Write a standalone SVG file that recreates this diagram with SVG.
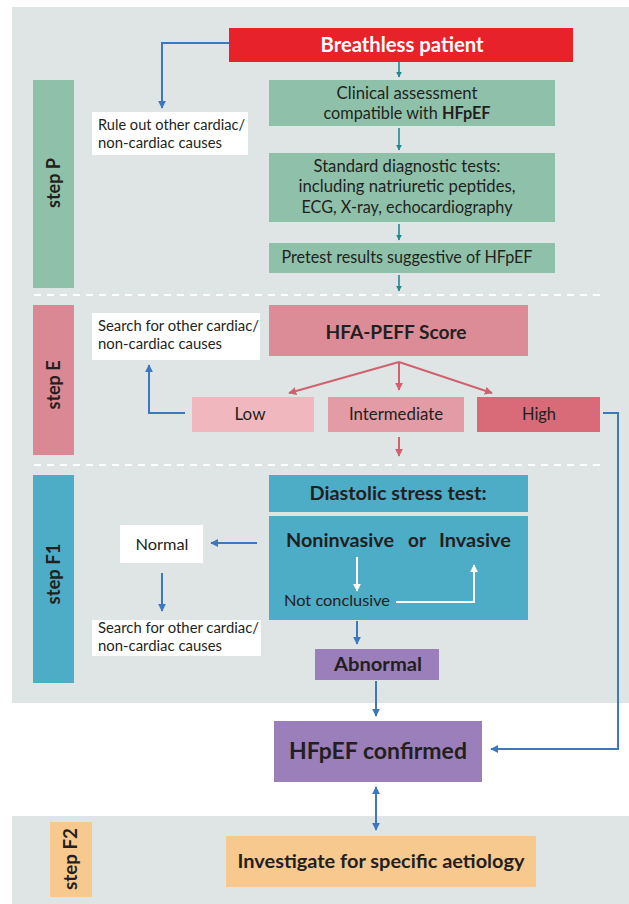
<svg xmlns="http://www.w3.org/2000/svg" width="629" height="904" viewBox="0 0 629 904">
<defs>
<style>
text{font-family:Lato,"Open Sans","Liberation Sans",sans-serif;fill:#231f20}
.b{font-weight:bold}
.c{text-anchor:middle}
.bg{fill:#dfe5e4}
.grn{fill:#8fc1aa}
.w{fill:#ffffff}
.tl{stroke:#1f8a8c;stroke-width:1.6;fill:none}
.pk{stroke:#d1616f;stroke-width:2;fill:none}
.bl{stroke:#3c78bf;stroke-width:2;fill:none}
.wh{stroke:#ffffff;stroke-width:2;fill:none}
.dash{stroke:#ffffff;stroke-width:2;stroke-dasharray:7 6;fill:none}
</style>
<marker id="mt" viewBox="0 0 10 10" refX="9" refY="5" markerWidth="6" markerHeight="6" orient="auto" markerUnits="userSpaceOnUse"><path d="M0,0 L10,5 L0,10 z" fill="#1f8a8c"/></marker>
<marker id="mp" viewBox="0 0 10 10" refX="9" refY="5" markerWidth="8" markerHeight="8" orient="auto" markerUnits="userSpaceOnUse"><path d="M0,0 L10,5 L0,10 z" fill="#d1616f"/></marker>
<marker id="mb" viewBox="0 0 10 10" refX="9" refY="5" markerWidth="8" markerHeight="8" orient="auto-start-reverse" markerUnits="userSpaceOnUse"><path d="M0,0 L10,5 L0,10 z" fill="#3c78bf"/></marker>
<marker id="mw" viewBox="0 0 10 10" refX="9" refY="5" markerWidth="8" markerHeight="8" orient="auto" markerUnits="userSpaceOnUse"><path d="M0,0 L10,5 L0,10 z" fill="#ffffff"/></marker>
</defs>

<g id="panels">
<rect class="bg" x="12" y="7" width="617" height="696"/>
<rect class="bg" x="12" y="816" width="617" height="88"/>
<line class="dash" x1="34" y1="295" x2="600" y2="295"/>
<line class="dash" x1="34" y1="465" x2="600" y2="465"/>
</g>

<g id="stepP">
<rect class="grn" x="33" y="80" width="41" height="208"/>
<text class="b c" font-size="18" transform="translate(60,183) rotate(-90)" textLength="50" lengthAdjust="spacingAndGlyphs">step P</text>
</g>
<g id="stepE">
<rect fill="#d98894" x="33" y="305" width="41" height="150"/>
<text class="b c" font-size="18" transform="translate(60,385) rotate(-90)" textLength="49" lengthAdjust="spacingAndGlyphs">step E</text>
</g>
<g id="stepF1">
<rect fill="#4dacc6" x="33" y="475" width="41" height="208"/>
<text class="b c" font-size="18" transform="translate(60,574) rotate(-90)" textLength="61" lengthAdjust="spacingAndGlyphs">step F1</text>
</g>
<g id="stepF2">
<rect fill="#f7c98f" x="50" y="822" width="42" height="75"/>
<text class="b c" font-size="18" transform="translate(77,859) rotate(-90)" textLength="62" lengthAdjust="spacingAndGlyphs">step F2</text>
</g>

<g id="breathless">
<rect fill="#e8222b" x="229" y="28" width="344" height="34"/>
<text class="b c" font-size="20" x="402" y="52" style="fill:#ffffff" textLength="163" lengthAdjust="spacingAndGlyphs">Breathless patient</text>
</g>
<g id="clinical">
<rect class="grn" x="269" y="80" width="286" height="46"/>
<text class="c" font-size="16.5" x="407" y="99" textLength="141" lengthAdjust="spacingAndGlyphs">Clinical assessment</text>
<text class="c" font-size="16.5" x="407" y="119" textLength="167" lengthAdjust="spacingAndGlyphs">compatible with <tspan class="b">HFpEF</tspan></text>
</g>
<g id="standard">
<rect class="grn" x="269" y="153" width="286" height="69"/>
<text class="c" font-size="16.5" x="407" y="172" textLength="187" lengthAdjust="spacingAndGlyphs">Standard diagnostic tests:</text>
<text class="c" font-size="16.5" x="407" y="192" textLength="217" lengthAdjust="spacingAndGlyphs">including natriuretic peptides,</text>
<text class="c" font-size="16.5" x="407" y="213" textLength="211" lengthAdjust="spacingAndGlyphs">ECG, X-ray, echocardiography</text>
</g>
<g id="pretest">
<rect class="grn" x="269" y="243" width="286" height="30"/>
<text class="c" font-size="16.5" x="407" y="263" textLength="251" lengthAdjust="spacingAndGlyphs">Pretest results suggestive of HFpEF</text>
</g>
<g id="ruleout">
<rect class="w" x="92" y="112" width="156" height="43"/>
<text font-size="14.5" x="98" y="130" textLength="147" lengthAdjust="spacingAndGlyphs">Rule out other cardiac/</text>
<text font-size="14.5" x="98" y="148" textLength="124" lengthAdjust="spacingAndGlyphs">non-cardiac causes</text>
</g>

<g id="hfapeff">
<rect fill="#dc8c97" x="269" y="305" width="259" height="51"/>
<text class="b c" font-size="19" x="396" y="339" textLength="141" lengthAdjust="spacingAndGlyphs">HFA-PEFF Score</text>
</g>
<g id="searchE">
<rect class="w" x="92" y="313" width="168" height="47"/>
<text font-size="14.5" x="98" y="331" textLength="161" lengthAdjust="spacingAndGlyphs">Search for other cardiac/</text>
<text font-size="14.5" x="98" y="349" textLength="124" lengthAdjust="spacingAndGlyphs">non-cardiac causes</text>
</g>
<g id="low">
<rect fill="#f0b8be" x="192" y="397" width="122" height="35"/>
<text class="c" font-size="16.5" x="250" y="420" textLength="31" lengthAdjust="spacingAndGlyphs">Low</text>
</g>
<g id="intermediate">
<rect fill="#e39ba5" x="328" y="397" width="136" height="35"/>
<text class="c" font-size="16.5" x="396" y="420" textLength="94" lengthAdjust="spacingAndGlyphs">Intermediate</text>
</g>
<g id="high">
<rect fill="#d96b79" x="477" y="397" width="123" height="35"/>
<text class="c" font-size="16.5" x="539" y="420" textLength="34" lengthAdjust="spacingAndGlyphs">High</text>
</g>

<g id="diastolic">
<rect fill="#4dacc6" x="269" y="475" width="259" height="37"/>
<text class="b c" font-size="18" x="398" y="500" textLength="177" lengthAdjust="spacingAndGlyphs">Diastolic stress test:</text>
</g>
<g id="noninvasive">
<rect fill="#4dacc6" x="269" y="516" width="259" height="104"/>
<text class="b" font-size="18" x="286" y="547" textLength="108" lengthAdjust="spacingAndGlyphs">Noninvasive</text>
<text class="b" font-size="18" x="408" y="547" textLength="18" lengthAdjust="spacingAndGlyphs">or</text>
<text class="b" font-size="18" x="439" y="547" textLength="72" lengthAdjust="spacingAndGlyphs">Invasive</text>
<text font-size="16" x="284" y="606" textLength="106" lengthAdjust="spacingAndGlyphs">Not conclusive</text>
</g>
<g id="normal">
<rect class="w" x="120" y="525" width="83" height="38"/>
<text class="c" font-size="16" x="162" y="550" textLength="53" lengthAdjust="spacingAndGlyphs">Normal</text>
</g>
<g id="searchF1">
<rect class="w" x="92" y="620" width="169" height="36"/>
<text font-size="14.5" x="98" y="633" textLength="161" lengthAdjust="spacingAndGlyphs">Search for other cardiac/</text>
<text font-size="14.5" x="98" y="651" textLength="124" lengthAdjust="spacingAndGlyphs">non-cardiac causes</text>
</g>
<g id="abnormal">
<rect fill="#9b7fba" x="315" y="649" width="124" height="31"/>
<text class="b c" font-size="18" x="378" y="671" textLength="88" lengthAdjust="spacingAndGlyphs">Abnormal</text>
</g>
<g id="confirmed">
<rect fill="#9b7fba" x="274" y="721" width="208" height="61"/>
<text class="b c" font-size="22" x="378" y="759" textLength="178" lengthAdjust="spacingAndGlyphs">HFpEF confirmed</text>
</g>
<g id="investigate">
<rect fill="#f7c98f" x="226" y="836" width="310" height="51"/>
<text class="b c" font-size="18" x="381" y="868" textLength="287" lengthAdjust="spacingAndGlyphs">Investigate for specific aetiology</text>
</g>

<g id="connectors">
<line class="tl" x1="399" y1="62" x2="399" y2="77" marker-end="url(#mt)"/>
<line class="tl" x1="399" y1="128" x2="399" y2="150" marker-end="url(#mt)"/>
<line class="tl" x1="399" y1="224" x2="399" y2="240" marker-end="url(#mt)"/>
<line class="tl" x1="399" y1="275" x2="399" y2="291" marker-end="url(#mt)"/>
<line class="pk" x1="399" y1="362" x2="289" y2="393" marker-end="url(#mp)"/>
<line class="pk" x1="399" y1="362" x2="399" y2="390" marker-end="url(#mp)"/>
<line class="pk" x1="399" y1="362" x2="492" y2="393" marker-end="url(#mp)"/>
<line class="pk" x1="399" y1="437" x2="399" y2="456" marker-end="url(#mp)"/>
<path class="bl" d="M229,43 H162 V108" marker-end="url(#mb)"/>
<path class="bl" d="M185,413 H149 V365" marker-end="url(#mb)"/>
<path class="bl" d="M603,413 H618 V749 H491" marker-end="url(#mb)"/>
<path class="bl" d="M257,543 H211" marker-end="url(#mb)"/>
<path class="bl" d="M162,573 V611" marker-end="url(#mb)"/>
<path class="bl" d="M357,621 V644" marker-end="url(#mb)"/>
<path class="bl" d="M376,681 V716" marker-end="url(#mb)"/>
<path class="bl" d="M376,787 V830" marker-start="url(#mb)" marker-end="url(#mb)"/>
<path class="wh" d="M357,557 V591" marker-end="url(#mw)"/>
<path class="wh" d="M396,602 H474 V565" marker-end="url(#mw)"/>
</g>
</svg>
